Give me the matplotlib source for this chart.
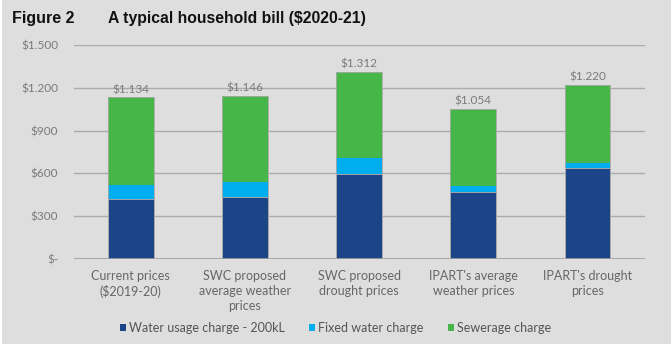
import matplotlib
matplotlib.use("Agg")
import matplotlib.pyplot as plt
from matplotlib.patches import Rectangle, Patch

categories = ["Current prices\n($2019-20)", "SWC proposed\naverage weather\nprices",
              "SWC proposed\ndrought prices", "IPART's average\nweather prices",
              "IPART's drought\nprices"]
usage = [420, 435, 598, 470, 636]
fixed = [97, 107, 110, 40, 37]
totals = [1134, 1146, 1312, 1054, 1220]
sewer = [t - u - f for t, u, f in zip(totals, usage, fixed)]
total_labels = ["$1.134", "$1.146", "$1.312", "$1.054", "$1.220"]
yticks = [0, 300, 600, 900, 1200, 1500]
ytick_labels = ["$-", "$300", "$600", "$900", "$1.200", "$1.500"]
series_names = ["Water usage charge - 200kL", "Fixed water charge", "Sewerage charge"]

c_usage, c_fixed, c_sewer = "#1b4587", "#00aeef", "#47b649"
bg = "#dedede"
txt = "#7a7a7a"

plt.rcParams['font.family'] = ['Lato', 'DejaVu Sans']

W, H = 671, 347
fig = plt.figure(figsize=(W / 100, H / 100), dpi=100, facecolor="white")
fig.patches.append(Rectangle((0.003, 3 / H), 1, 1, transform=fig.transFigure,
                             facecolor=bg, edgecolor="none", zorder=-10))

ax = fig.add_axes([73.6 / W, 88 / H, 571 / W, 214 / H])
ax.set_facecolor("none")
x = list(range(len(categories)))
bw = 0.40
ec = "#a8a8a8"
ax.bar(x, usage, bw, color=c_usage, edgecolor=ec, linewidth=0.6, zorder=3)
ax.bar(x, fixed, bw, bottom=usage, color=c_fixed, edgecolor="none", zorder=3)
bot2 = [u + f for u, f in zip(usage, fixed)]
ax.bar(x, sewer, bw, bottom=bot2, color=c_sewer, edgecolor="none", zorder=3)
ax.bar(x, totals, bw, color="none", edgecolor=ec, linewidth=0.6, zorder=4)

for xi, t, lab in zip(x, totals, total_labels):
    ax.annotate(lab, (xi, t), xytext=(0, 1.5), textcoords="offset points",
                ha="center", va="bottom", fontsize=8.5, color=txt)

ax.set_xlim(-0.5, 4.5)
ax.set_ylim(0, 1500)
ax.set_yticks(yticks)
ax.set_yticklabels(ytick_labels)
ax.set_xticks(x)
ax.set_xticklabels(categories, linespacing=1.3)
ax.tick_params(axis="y", length=0, pad=11, labelsize=8.5, labelcolor=txt)
ax.tick_params(axis="x", length=0, pad=8, labelsize=9, labelcolor="#666666")
ax.grid(axis="y", color="#ababab", linewidth=1.0, zorder=0)
for s in ax.spines.values():
    s.set_visible(False)
ax.axhline(0, color="#a0a0a0", linewidth=1.2, zorder=5)

handles = [Patch(facecolor=c, edgecolor="none") for c in (c_usage, c_fixed, c_sewer)]
fig.legend(handles, series_names, loc="center", bbox_to_anchor=(0.5, 1 - 328 / H),
           ncol=3, frameon=False, fontsize=9, labelcolor="#555555",
           handlelength=0.5, handleheight=0.5, handletextpad=0.25, columnspacing=1.9)

fig.text(12 / W, 1 - 18 / H, "Figure 2", fontsize=11.5, fontweight="bold",
         family="Liberation Sans", va="center", ha="left", color="#111111")
fig.text(108 / W, 1 - 18 / H, "A typical household bill ($2020-21)", fontsize=11.3,
         fontweight="bold", family="Liberation Sans", va="center", ha="left", color="#111111")

fig.savefig("out.png", dpi=100, facecolor=fig.get_facecolor())
